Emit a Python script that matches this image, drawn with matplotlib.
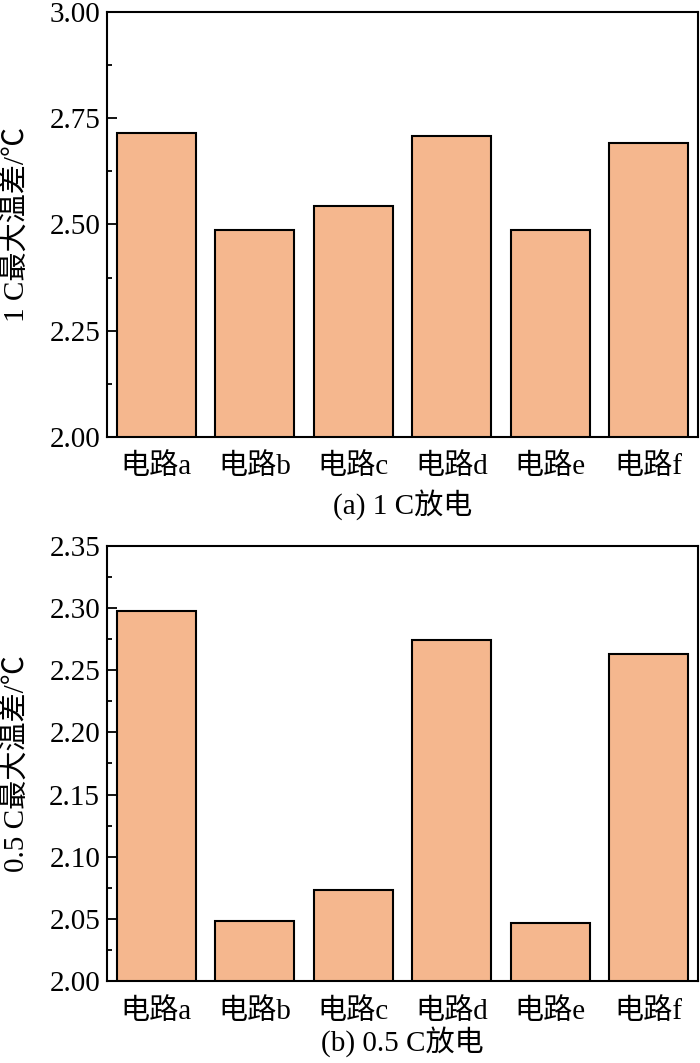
import matplotlib
matplotlib.use("Agg")
import matplotlib.pyplot as plt
from matplotlib.ticker import MultipleLocator, FormatStrFormatter

plt.rcParams["font.family"] = ["Liberation Serif", "Noto Sans CJK SC"]
plt.rcParams["font.size"] = 21

# ---------------------------------------------------------------------------
# Data
# ---------------------------------------------------------------------------
circuits = ["电路a", "电路b", "电路c", "电路d", "电路e", "电路f"]
dt_1c = [2.715, 2.487, 2.544, 2.708, 2.487, 2.692]
dt_05c = [2.298, 2.048, 2.073, 2.274, 2.047, 2.263]

BAR_COLOR = "#F5B78E"

fig = plt.figure(figsize=(7.0, 10.63), dpi=100)
ax1 = fig.add_axes([0.153, 0.589, 0.844, 0.3997])
ax2 = fig.add_axes([0.153, 0.0771, 0.844, 0.4093])

panels = [
    (ax1, dt_1c, (2.0, 3.0), 0.25, 0.125, "1 C最大温差/℃", "(a) 1 C放电", 0.525),
    (ax2, dt_05c, (2.0, 2.35), 0.05, 0.025, "0.5 C最大温差/℃", "(b) 0.5 C放电", 0.020),
]

for ax, vals, ylim, major, minor, ylabel, caption, cap_y in panels:
    x = range(len(circuits))
    ax.bar(x, vals, width=0.8, color=BAR_COLOR, edgecolor="black", linewidth=1.5)
    ax.set_xlim(-0.5, len(circuits) - 0.5)
    ax.set_ylim(*ylim)
    ax.set_xticks(list(x))
    ax.set_xticklabels(circuits)
    ax.yaxis.set_major_locator(MultipleLocator(major))
    ax.yaxis.set_minor_locator(MultipleLocator(minor))
    ax.yaxis.set_major_formatter(FormatStrFormatter("%.2f"))
    ax.tick_params(axis="x", length=0, pad=12)
    ax.tick_params(axis="y", which="major", direction="in", length=7, width=1.3, pad=5)
    ax.tick_params(axis="y", which="minor", direction="in", length=3.5, width=1.3)
    for sp in ax.spines.values():
        sp.set_linewidth(1.5)
    ax.set_ylabel(ylabel)
    ax.yaxis.set_label_coords(-0.13, 0.5)
    fig.text(0.575, cap_y, caption, ha="center", va="center")

fig.savefig("out.png", dpi=100)
